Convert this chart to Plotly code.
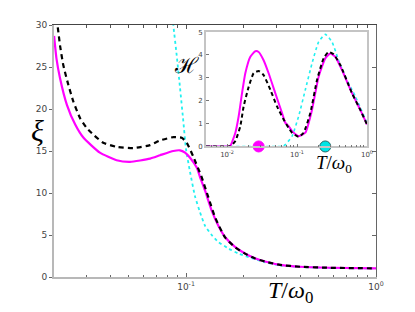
import plotly.graph_objects as go

# ---------------- main panel data (xi vs T/omega0) ----------------
T_mag = [0.0202, 0.0208, 0.0217, 0.0236, 0.0261, 0.0288, 0.0352, 0.0431, 0.0507, 0.0647,
         0.0730, 0.0857, 0.0929, 0.0988, 0.105, 0.114, 0.1185, 0.1259, 0.1365, 0.148,
         0.1604, 0.181, 0.2044, 0.2307, 0.2606, 0.3126, 0.398, 0.57, 1.0]
xi_mag = [28.7, 26.0, 23.7, 20.5, 18.15, 16.6, 14.8, 13.9, 13.7, 14.1,
          14.5, 15.0, 15.08, 14.8, 14.2, 13.0, 11.9, 10.3, 7.9, 6.1,
          4.76, 3.58, 2.8, 2.22, 1.85, 1.45, 1.22, 1.1, 1.03]

T_blk = [0.0202, 0.02104, 0.0217, 0.0226, 0.0240, 0.0255, 0.0277, 0.0300, 0.0325, 0.0367,
         0.0431, 0.0528, 0.0647, 0.0730, 0.0857, 0.0949, 0.1009, 0.1093, 0.121, 0.131,
         0.1422, 0.1604, 0.181, 0.2044, 0.2307, 0.2606, 0.3126, 0.398, 0.57, 1.0]
xi_blk = [31.8, 30.0, 27.6, 25.2, 22.9, 20.9, 18.9, 17.75, 16.95, 15.98,
          15.5, 15.35, 15.7, 16.26, 16.65, 16.57, 15.98, 14.3, 11.85, 9.5,
          7.1, 4.72, 3.55, 2.78, 2.2, 1.84, 1.44, 1.22, 1.1, 1.03]

T_cyn = [0.0824, 0.0857, 0.0893, 0.093, 0.0968, 0.100, 0.105, 0.1115, 0.1185, 0.1259,
         0.1365, 0.148, 0.167, 0.1885, 0.2218, 0.2606, 0.3126, 0.398, 0.57, 1.0]
xi_cyn = [33.8, 30.0, 26.4, 22.5, 18.5, 15.2, 12.5, 9.6, 7.7, 6.1,
          5.0, 4.17, 3.4, 2.8, 2.25, 1.75, 1.4, 1.2, 1.08, 1.02]

# ---------------- inset data (H vs T/omega0) ----------------
Ti_mag = [0.005, 0.008, 0.0105, 0.01115, 0.01315, 0.01466, 0.01638, 0.01824, 0.02153, 0.02536,
          0.02827, 0.0333, 0.0393, 0.0489, 0.0611, 0.0681, 0.0759, 0.0849, 0.1055, 0.1315,
          0.1638, 0.2037, 0.2536, 0.299, 0.3524, 0.4393, 0.6105, 0.8023, 1.0]
H_mag = [0.0, 0.0, 0.0, 0.03, 0.6, 1.32, 2.33, 3.2, 3.92, 4.16,
         4.13, 3.77, 3.2, 2.33, 1.46, 1.03, 0.89, 0.67, 0.45, 0.6,
         1.6, 3.05, 3.85, 4.06, 3.92, 3.34, 2.33, 1.6, 0.96]

Ti_blk = [0.005, 0.008, 0.0105, 0.0112, 0.01315, 0.01549, 0.01726, 0.02036, 0.024, 0.02827,
          0.0333, 0.04156, 0.05179, 0.0644, 0.0759, 0.0849, 0.1055, 0.1242, 0.155, 0.1931,
          0.24, 0.2827, 0.3333, 0.4156, 0.6105, 0.8023, 1.0]
H_blk = [0.0, 0.0, 0.0, 0.01, 0.24, 0.89, 1.75, 2.6, 3.2, 3.3,
         3.12, 2.48, 1.75, 1.18, 0.81, 0.6, 0.42, 0.6, 1.46, 2.9,
         3.85, 4.13, 4.03, 3.56, 2.33, 1.6, 0.96]

Ti_cyn = [0.005, 0.02, 0.05, 0.0625, 0.0681, 0.0849, 0.1055, 0.1315, 0.1638, 0.2037,
          0.2536, 0.3162, 0.3928, 0.4894, 0.6811, 1.0]
H_cyn = [0.0, 0.0, 0.0, 0.0, 0.08, 0.45, 1.32, 2.48, 3.63, 4.57,
         4.9, 4.57, 3.77, 3.05, 2.19, 1.03]

# marker positions on the inset baseline
mark_T = [0.0283, 0.2536]
mark_H = [0.0, 0.0]

# ticks
main_xticks = [0.1, 1.0]
main_xtext = ["10<sup>-1</sup>", "10<sup>0</sup>"]
main_xminor = [0.03, 0.04, 0.05, 0.06, 0.07, 0.08, 0.09, 0.2, 0.3, 0.4, 0.5, 0.6, 0.7, 0.8, 0.9]
main_yticks = [0, 5, 10, 15, 20, 25, 30]
ins_xticks = [0.01, 0.1, 1.0]
ins_xtext = ["10<sup>-2</sup>", "10<sup>-1</sup>", "10<sup>0</sup>"]
ins_xminor = [0.006, 0.007, 0.008, 0.009, 0.02, 0.03, 0.04, 0.05, 0.06, 0.07, 0.08, 0.09,
              0.2, 0.3, 0.4, 0.5, 0.6, 0.7, 0.8, 0.9]
ins_yticks = [0, 1, 2, 3, 4, 5]

MAG = "#ff00ff"
CYN = "#22f0f0"

fig = go.Figure()

# main panel
fig.add_trace(go.Scatter(x=T_cyn, y=xi_cyn, mode="lines", line=dict(color=CYN, width=1.8, dash="dot", shape="spline", smoothing=0.5),
                         xaxis="x", yaxis="y", showlegend=False, hoverinfo="skip"))
fig.add_trace(go.Scatter(x=T_mag, y=xi_mag, mode="lines", line=dict(color=MAG, width=2.2, shape="spline", smoothing=0.5),
                         xaxis="x", yaxis="y", showlegend=False, hoverinfo="skip"))
fig.add_trace(go.Scatter(x=T_blk, y=xi_blk, mode="lines", line=dict(color="black", width=2.2, dash="5px,4px", shape="spline", smoothing=0.5),
                         xaxis="x", yaxis="y", showlegend=False, hoverinfo="skip"))

# dummy trace for top/right frame axes
fig.add_trace(go.Scatter(x=[0.5], y=[-100], mode="markers", marker=dict(opacity=0),
                         xaxis="x3", yaxis="y3", showlegend=False, hoverinfo="skip"))

# inset
fig.add_trace(go.Scatter(x=Ti_cyn, y=H_cyn, mode="lines", line=dict(color=CYN, width=1.6, dash="dot", shape="spline", smoothing=0.5),
                         xaxis="x2", yaxis="y2", showlegend=False, hoverinfo="skip", cliponaxis=False))
fig.add_trace(go.Scatter(x=Ti_mag, y=H_mag, mode="lines", line=dict(color=MAG, width=2.0, shape="spline", smoothing=0.5),
                         xaxis="x2", yaxis="y2", showlegend=False, hoverinfo="skip", cliponaxis=False))
fig.add_trace(go.Scatter(x=Ti_blk, y=H_blk, mode="lines", line=dict(color="black", width=2.0, dash="4px,3px", shape="spline", smoothing=0.5),
                         xaxis="x2", yaxis="y2", showlegend=False, hoverinfo="skip", cliponaxis=False))
fig.add_trace(go.Scatter(x=mark_T, y=mark_H, mode="markers",
                         marker=dict(size=11, color=[MAG, "#00e5e5"],
                                     line=dict(color=[MAG, "#226666"], width=1)),
                         xaxis="x2", yaxis="y2", showlegend=False, hoverinfo="skip", cliponaxis=False))

tickfont = dict(family="DejaVu Sans", size=9, color="#444")
tickfont_s = dict(family="DejaVu Sans", size=7, color="#444")

fig.update_layout(
    width=415, height=312,
    margin=dict(l=46, r=47, t=15, b=43),
    paper_bgcolor="white", plot_bgcolor="white",
    xaxis=dict(type="log", range=[-1.695, 0], domain=[0, 1], anchor="y",
               showline=True, linecolor="#b8b8b8", linewidth=2, mirror=False,
               ticks="inside", ticklen=4, tickcolor="#666",
               tickvals=main_xticks, ticktext=main_xtext, tickfont=tickfont,
               minor=dict(tickvals=main_xminor, ticks="inside", ticklen=2.5, tickcolor="#666"),
               showgrid=False, zeroline=False),
    yaxis=dict(range=[0, 30], domain=[0, 1], anchor="x",
               showline=True, linecolor="#b8b8b8", linewidth=2, mirror=False,
               ticks="outside", ticklen=3, tickcolor="#666",
               tickvals=main_yticks, tickfont=tickfont, showgrid=False, zeroline=False),
    xaxis3=dict(type="log", range=[-1.695, 0], overlaying="x", side="top", anchor="y3",
                showline=True, linecolor="#444", linewidth=1,
                ticks="inside", ticklen=4, tickcolor="#555", tickvals=main_xticks, showticklabels=False,
                minor=dict(tickvals=main_xminor, ticks="inside", ticklen=2.5, tickcolor="#555"),
                showgrid=False, zeroline=False),
    yaxis3=dict(range=[0, 30], overlaying="y", side="right", anchor="x3",
                showline=True, linecolor="#666", linewidth=1,
                ticks="inside", ticklen=4, tickcolor="#666", tickvals=main_yticks, showticklabels=False,
                showgrid=False, zeroline=False),
    xaxis2=dict(type="log", range=[-2.301, 0], domain=[0.472, 0.972], anchor="y2",
                showline=True, linecolor="#c4c4c4", linewidth=1.5, mirror=True,
                ticks="inside", ticklen=3, tickcolor="#777",
                tickvals=ins_xticks, ticktext=ins_xtext, tickfont=tickfont_s,
                minor=dict(tickvals=ins_xminor, ticks="inside", ticklen=2, tickcolor="#777"),
                showgrid=False, zeroline=False),
    yaxis2=dict(range=[0, 5], domain=[0.518, 0.972], anchor="x2",
                showline=True, linecolor="#c4c4c4", linewidth=1.5, mirror=True,
                ticks="inside", ticklen=3, tickcolor="#777",
                tickvals=ins_yticks, tickfont=tickfont_s, showgrid=False, zeroline=False),
)

# background box for the inset so it sits on white
fig.add_shape(type="rect", xref="x2 domain", yref="y2 domain", x0=0, x1=1, y0=0, y1=1,
              fillcolor="white", line=dict(width=0), layer="below")

serif = "Liberation Serif"
ann = dict(xref="paper", yref="paper", showarrow=False, xanchor="center", yanchor="middle")
fig.add_annotation(text="<i>ξ</i>", x=-0.052, y=0.58,
                   font=dict(family=serif, size=30, color="black"), **ann)
fig.add_annotation(text="ℋ", x=0.412, y=0.84,
                   font=dict(family="DejaVu Serif", size=22, color="black"), **ann)
fig.add_annotation(text="<i>T</i>/<i>ω</i><sub>0</sub>", x=0.733, y=-0.06,
                   font=dict(family=serif, size=24, color="black"), **ann)
fig.add_annotation(text="<i>T</i>/<i>ω</i><sub>0</sub>", x=0.87, y=0.45,
                   font=dict(family=serif, size=19, color="black"), **ann)

fig.write_html("out.html")
